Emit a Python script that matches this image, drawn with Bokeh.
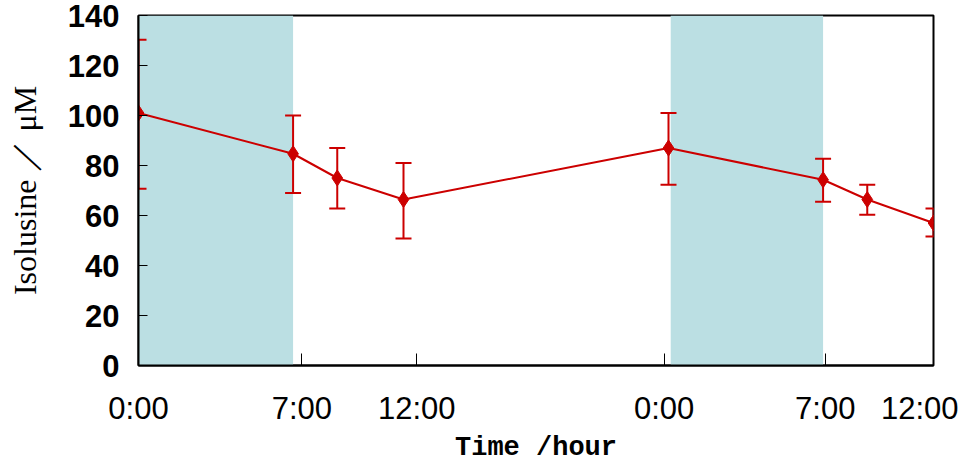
from bokeh.plotting import figure
from bokeh.models import FixedTicker, Range1d, BoxAnnotation, ColumnDataSource, Whisker, TeeHead
from bokeh.embed import file_html
from bokeh.resources import INLINE

# Data (hours since first midnight)
hours = [0, 7, 9, 12, 24, 31, 33, 36]
isolusine = [101, 84.7, 75, 66.4, 87, 74.3, 66.4, 57]
err_upper = [130.3, 100, 87, 81, 101, 82.7, 72.3, 62.8]
err_lower = [70.7, 69, 62.8, 50.8, 72.3, 65.5, 60.3, 51.6]

dark_starts = [0, 24.1]
dark_ends = [7, 31]

tick_hours = [0, 7.4, 12.6, 23.8, 31.1, 36]
tick_labels = ["0:00", "7:00", "12:00", "0:00", "7:00", "12:00"]
y_ticks = [0, 20, 40, 60, 80, 100, 120, 140]

RED = "#cc0000"

p = figure(frame_width=795, frame_height=350, output_backend="svg", toolbar_location=None,
           x_range=Range1d(0, 36), y_range=Range1d(0, 140),
           min_border_left=138, min_border_right=25, min_border_top=15, min_border_bottom=20)
p.grid.visible = False
p.outline_line_color = "black"
p.outline_line_width = 2
p.background_fill_color = "white"
p.border_fill_color = "white"

for s, e in zip(dark_starts, dark_ends):
    p.add_layout(BoxAnnotation(left=s, right=e, fill_color="#bbdfe3", fill_alpha=1.0,
                               line_color=None, level="underlay"))

src = ColumnDataSource(dict(x=hours, y=isolusine, up=err_upper, lo=err_lower))

p.line("x", "y", source=src, line_color=RED, line_width=2)
w = Whisker(base="x", upper="up", lower="lo", source=src, line_color=RED, line_width=2,
            upper_head=TeeHead(size=16, line_color=RED, line_width=2),
            lower_head=TeeHead(size=16, line_color=RED, line_width=2))
p.add_layout(w)
p.scatter("x", "y", source=src, marker="diamond", size=16, fill_color=RED, line_color=RED)

# X axis
p.xaxis.ticker = FixedTicker(ticks=tick_hours)
p.xaxis.major_label_overrides = {t: l for t, l in zip(tick_hours, tick_labels)}
p.xaxis.major_tick_in = 12
p.xaxis.major_tick_out = 0
p.xaxis.minor_tick_line_color = None
p.xaxis.axis_line_width = 2
p.xaxis.major_tick_line_color = "black"
p.xaxis.major_label_standoff = 25
p.xaxis.major_label_text_font = "Liberation Sans"
p.xaxis.major_label_text_font_size = "31px"
p.xaxis.major_label_text_color = "black"
p.xaxis.axis_label = "Time /hour"
p.xaxis.axis_label_text_font = "Liberation Mono"
p.xaxis.axis_label_text_font_style = "bold"
p.xaxis.axis_label_text_font_size = "27px"
p.xaxis.axis_label_standoff = 4
p.xaxis.axis_label_text_color = "black"

# Y axis
p.yaxis.ticker = FixedTicker(ticks=y_ticks)
p.yaxis.major_tick_in = 9
p.yaxis.major_tick_out = 0
p.yaxis.minor_tick_line_color = None
p.yaxis.axis_line_width = 2
p.yaxis.major_label_standoff = 19
p.yaxis.major_label_text_font = "Liberation Sans"
p.yaxis.major_label_text_font_style = "bold"
p.yaxis.major_label_text_font_size = "31px"
p.yaxis.major_label_text_line_height = 1.0
p.yaxis.major_label_text_color = "black"
p.yaxis.axis_label = "Isolusine ／ μM"
p.yaxis.axis_label_text_font = "Liberation Serif"
p.yaxis.axis_label_text_font_style = "normal"
p.yaxis.axis_label_text_font_size = "32px"
p.yaxis.axis_label_standoff = 22
p.yaxis.axis_label_text_color = "black"

open("out.html", "w").write(file_html(p, INLINE))
